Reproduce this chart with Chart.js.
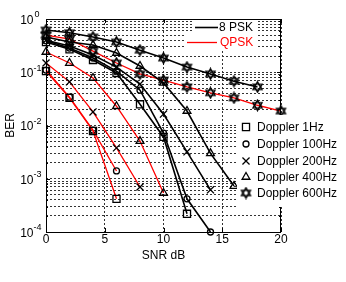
<!DOCTYPE html>
<html>
<head>
<meta charset="utf-8">
<script src="https://cdn.jsdelivr.net/npm/chart.js@4.4.1/dist/chart.umd.min.js"></script>
<style>
	html, body { margin: 0; padding: 0; background: #fff; }
	#wrap { width: 346px; height: 282px; }
</style>
</head>
<body>
<div id="wrap"><canvas id="chart-ber"></canvas></div>
<script>
const SNR = [0, 2, 4, 6, 8, 10, 12, 14, 16, 18, 20];
const X_TICKS = [0, 5, 10, 15, 20];
const Y_EXPONENTS = [0, -1, -2, -3, -4];
const DOPPLER_LABELS = ["Doppler 1Hz", "Doppler 100Hz", "Doppler 200Hz", "Doppler 400Hz", "Doppler 600Hz"];
const MOD_LABELS = ["8 PSK", "QPSK"];

// 8 PSK curves (black)
const PSK8_1HZ = [0.37, 0.27, 0.17, 0.097, 0.025, 0.0061, 0.00022];
const PSK8_100HZ = [0.39, 0.285, 0.185, 0.105, 0.046, 0.0072, 0.00042, 0.0001];
const PSK8_200HZ = [0.40, 0.31, 0.21, 0.125, 0.060, 0.0164, 0.0032, 0.00062];
const PSK8_400HZ = [0.46, 0.37, 0.325, 0.23, 0.131, 0.063, 0.0187, 0.0030, 0.00073];
const PSK8_600HZ = [0.62, 0.55, 0.46, 0.37, 0.26, 0.185, 0.125, 0.093, 0.068, 0.053];

// QPSK curves (red)
const QPSK_1HZ = [0.105, 0.033, 0.0079, 0.00042];
const QPSK_100HZ = [0.110, 0.034, 0.0082, 0.0014];
const QPSK_200HZ = [0.149, 0.066, 0.018, 0.0038, 0.0007];
const QPSK_400HZ = [0.24, 0.149, 0.078, 0.023, 0.0051, 0.00054];
const QPSK_600HZ = [0.50, 0.42, 0.25, 0.149, 0.093, 0.0715, 0.053, 0.041, 0.033, 0.024, 0.0187];

const FONT = "'Liberation Sans', Arial, Helvetica, sans-serif";
const RED = "#ff0000";

// hexagram marker (MATLAB 'h')
const hexagram = (() => {
	const c = document.createElement("canvas");
	c.width = c.height = 13;
	const g = c.getContext("2d");
	const r = 5.2;
	g.strokeStyle = "#000";
	g.lineWidth = 1.4;
	[-Math.PI / 2, Math.PI / 2].forEach((rot) => {
		g.beginPath();
		for (let k = 0; k < 3; k++) {
			const a = rot + (k * 2 * Math.PI) / 3;
			const px = 6.5 + r * Math.cos(a);
			const py = 6.5 + r * Math.sin(a);
			k ? g.lineTo(px, py) : g.moveTo(px, py);
		}
		g.closePath();
		g.stroke();
	});
	return c;
})();

const MARKERS = [
	{ style: "rect", radius: 5 },
	{ style: "circle", radius: 3 },
	{ style: "crossRot", radius: 5 },
	{ style: "triangle", radius: 4.5 },
	{ style: hexagram, radius: 5 },
];

const makeSet = (values, color, dop) => ({
	data: values.map((v, i) => ({ x: SNR[i], y: v })),
	borderColor: color,
	borderWidth: color === RED ? 1.3 : 1.6,
	pointStyle: MARKERS[dop].style,
	pointRadius: MARKERS[dop].radius,
	pointBorderColor: "#000",
	pointBackgroundColor: "rgba(0,0,0,0)",
	pointBorderWidth: 1.3,
	tension: 0,
	clip: false,
});

const DATASETS = [
	makeSet(PSK8_1HZ, "#000", 0),
	makeSet(PSK8_100HZ, "#000", 1),
	makeSet(PSK8_200HZ, "#000", 2),
	makeSet(PSK8_400HZ, "#000", 3),
	makeSet(PSK8_600HZ, "#000", 4),
	makeSet(QPSK_1HZ, RED, 0),
	makeSet(QPSK_100HZ, RED, 1),
	makeSet(QPSK_200HZ, RED, 2),
	makeSet(QPSK_400HZ, RED, 3),
	makeSet(QPSK_600HZ, RED, 4),
];

// minor log ticks 1..9 x 10^e
const yTickValues = [];
Y_EXPONENTS.slice().reverse().forEach((e) => {
	if (e === 0) {
		yTickValues.push(1);
		return;
	}
	for (let m = 1; m <= 9; m++) yTickValues.push(m * Math.pow(10, e));
});

// same shapes as chart.js, used for the legend
const drawMarker = (ctx, style, r, x, y) => {
	if (typeof style === "object") {
		ctx.drawImage(style, x - style.width / 2, y - style.height / 2);
		return;
	}
	ctx.beginPath();
	if (style === "rect") {
		const s = r / Math.SQRT2;
		ctx.rect(x - s, y - s, 2 * s, 2 * s);
	} else if (style === "circle") {
		ctx.arc(x, y, r, 0, Math.PI * 2);
	} else if (style === "crossRot") {
		const d = r * Math.SQRT1_2;
		ctx.moveTo(x - d, y - d);
		ctx.lineTo(x + d, y + d);
		ctx.moveTo(x + d, y - d);
		ctx.lineTo(x - d, y + d);
	} else if (style === "triangle") {
		for (let k = 0; k < 3; k++) {
			const a = (k * 2 * Math.PI) / 3;
			const px = x + Math.sin(a) * r;
			const py = y - Math.cos(a) * r;
			k ? ctx.lineTo(px, py) : ctx.moveTo(px, py);
		}
		ctx.closePath();
	}
	ctx.stroke();
};

const matlabFrame = {
	id: "matlabFrame",
	afterDatasetsDraw(chart) {
		const { ctx, chartArea: a, scales } = chart;
		const xs = scales.x;
		const ys = scales.y;
		ctx.save();

		// axes box + inner ticks
		ctx.strokeStyle = "#000";
		ctx.lineWidth = 1;
		ctx.strokeRect(a.left + 0.5, a.top + 0.5, a.right - a.left - 1, a.bottom - a.top);
		ctx.beginPath();
		yTickValues.forEach((v) => {
			const y = Math.round(ys.getPixelForValue(v)) + 0.5;
			const len = Number.isInteger(Math.log10(v)) ? 4 : 2;
			ctx.moveTo(a.left, y);
			ctx.lineTo(a.left + len, y);
			ctx.moveTo(a.right, y);
			ctx.lineTo(a.right - len, y);
		});
		X_TICKS.forEach((t) => {
			const x = Math.round(xs.getPixelForValue(t)) + 0.5;
			ctx.moveTo(x, a.bottom);
			ctx.lineTo(x, a.bottom - 4);
			ctx.moveTo(x, a.top);
			ctx.lineTo(x, a.top + 4);
		});
		ctx.stroke();

		// top legend: modulation
		ctx.fillStyle = "#fff";
		ctx.fillRect(194, 20, 64, 15);
		ctx.fillRect(186, 35, 72, 14);
		ctx.lineWidth = 1.6;
		ctx.strokeStyle = "#000";
		ctx.beginPath();
		ctx.moveTo(195, 27.5);
		ctx.lineTo(218, 27.5);
		ctx.stroke();
		ctx.lineWidth = 1.3;
		ctx.strokeStyle = RED;
		ctx.beginPath();
		ctx.moveTo(187, 42.5);
		ctx.lineTo(217, 42.5);
		ctx.stroke();
		ctx.font = "12px " + FONT;
		ctx.textBaseline = "middle";
		ctx.textAlign = "left";
		ctx.fillStyle = "#000";
		ctx.fillText(MOD_LABELS[0], 219, 28);
		ctx.fillStyle = RED;
		ctx.fillText(MOD_LABELS[1], 220, 43);

		// bottom legend: doppler markers
		ctx.fillStyle = "#fff";
		ctx.fillRect(237, 115, 109, 92);
		const rows = [127, 144, 161, 177, 193];
		DOPPLER_LABELS.forEach((label, i) => {
			ctx.strokeStyle = "#000";
			ctx.lineWidth = 1.3;
			drawMarker(ctx, MARKERS[i].style, MARKERS[i].radius, 246, rows[i]);
			ctx.fillStyle = "#000";
			ctx.fillText(label, 257, rows[i] + 1);
		});

		// tick labels
		ctx.fillStyle = "#000";
		ctx.textAlign = "center";
		ctx.font = "12px " + FONT;
		X_TICKS.forEach((t) => ctx.fillText(String(t), xs.getPixelForValue(t), 240));
		Y_EXPONENTS.forEach((e) => {
			const y = ys.getPixelForValue(Math.pow(10, e));
			ctx.font = "12px " + FONT;
			ctx.textAlign = "right";
			ctx.fillText("10", 33.5, y + 1.5);
			ctx.font = "9px " + FONT;
			ctx.textAlign = "left";
			ctx.fillText(String(e), e === 0 ? 34.5 : 33.5, y - 4);
		});

		// axis titles
		ctx.font = "12px " + FONT;
		ctx.textAlign = "center";
		ctx.fillText("SNR dB", (a.left + a.right) / 2, 256);
		ctx.translate(11, (a.top + a.bottom) / 2);
		ctx.rotate(-Math.PI / 2);
		ctx.fillText("BER", 0, 0);
		ctx.restore();
	},
};

const CHART_CONFIG = {
	type: "line",
	data: { datasets: DATASETS },
	plugins: [matlabFrame],
	options: {
		responsive: true,
		maintainAspectRatio: false,
		animation: false,
		events: [],
		layout: { padding: { left: 0, top: 19, right: 65, bottom: 0 } },
		plugins: {
			legend: { display: false },
			title: { display: false },
			tooltip: { enabled: false },
		},
		scales: {
			x: {
				type: "linear",
				min: 0,
				max: 20,
				afterBuildTicks: (s) => {
					s.ticks = X_TICKS.map((v) => ({ value: v }));
				},
				afterFit: (s) => {
					s.height = 50;
				},
				ticks: { display: false },
				border: { display: false, dash: [2, 2] },
				grid: { color: "#333", lineWidth: 1, drawTicks: false },
			},
			y: {
				type: "logarithmic",
				min: 1e-4,
				max: 1,
				afterBuildTicks: (s) => {
					s.ticks = yTickValues.map((v) => ({ value: v }));
				},
				afterFit: (s) => {
					s.width = 46;
				},
				ticks: { display: false },
				border: { display: false, dash: [2, 2] },
				grid: { color: "#333", lineWidth: 1, drawTicks: false },
			},
		},
	},
};

new Chart(document.getElementById("chart-ber"), CHART_CONFIG);
</script>
</body>
</html>
